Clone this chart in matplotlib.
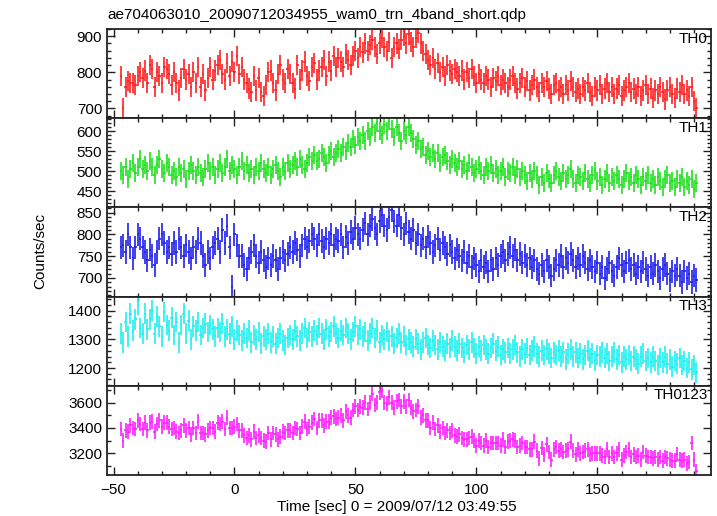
import numpy as np
import matplotlib
matplotlib.use("Agg")
import matplotlib.pyplot as plt
from matplotlib.ticker import MultipleLocator

plt.rcParams['font.family'] = ['Liberation Sans', 'DejaVu Sans']

# light curve data, 1 s bins starting at t = -47 s
t_start = -47
bin_width = 1.0

th0 = [790, 700, 760, 775, 770, 770, 765, 790, 800, 785,
       805, 770, 820, 810, 760, 800, 790, 770, 815, 810,
       795, 765, 800, 770, 750, 785, 810, 780, 795, 760,
       800, 770, 815, 760, 795, 750, 785, 815, 780, 805,
       820, 835, 795, 780, 825, 790, 830, 800, 845, 795,
       815, 780, 770, 755, 745, 790, 750, 785, 745, 735,
       765, 800, 805, 770, 750, 795, 820, 780, 770, 810,
       795, 770, 755, 820, 780, 805, 830, 790, 775, 815,
       825, 780, 805, 815, 835, 790, 830, 805, 845, 815,
       840, 830, 815, 850, 835, 820, 845, 860, 840, 870,
       855, 880, 860, 875, 890, 870, 850, 880, 895, 870,
       860, 885, 840, 870, 880, 865, 890, 900, 880, 905,
       885, 870, 895, 910, 880, 860, 850, 835, 820, 840,
       810, 825, 800, 815, 790, 820, 805, 795, 810, 800,
       790, 805, 780, 800, 785, 810, 790, 770, 795, 780,
       770, 790, 780, 760, 785, 775, 790, 765, 780, 770,
       760, 780, 790, 770, 755, 770, 785, 760, 775, 750,
       765, 780, 760, 745, 770, 760, 775, 755, 740, 765,
       770, 750, 760, 740, 765, 750, 775, 760, 745, 755,
       740, 760, 750, 770, 745, 735, 760, 750, 765, 740,
       755, 770, 745, 760, 740, 755, 765, 735, 750, 760,
       770, 745, 755, 740, 760, 735, 750, 765, 740, 755,
       730, 750, 740, 760, 745, 725, 750, 760, 740, 730,
       755, 745, 765, 740, 750, 735, 760, 720, 700]

th1 = [500, 490, 510, 480, 505, 520, 495, 510, 530, 505,
       515, 500, 525, 510, 490, 515, 530, 505, 495, 520,
       510, 490, 500, 485, 510, 495, 505, 480, 500, 515,
       500, 490, 510, 495, 485, 505, 520, 500, 510, 490,
       505, 520, 495, 510, 530, 500, 515, 505, 490, 510,
       525, 500, 515, 495, 505, 490, 510, 500, 520, 505,
       495, 510, 490, 505, 515, 500, 485, 510, 500, 520,
       505, 515, 525, 510, 530, 515, 505, 520, 535, 525,
       540, 525, 530, 545, 535, 520, 540, 550, 535, 545,
       555, 545, 560, 550, 570, 560, 580, 565, 585, 575,
       590, 575, 600, 585, 610, 595, 620, 600, 590, 615,
       600, 625, 605, 585, 610, 595, 575, 600, 590, 610,
       595, 580, 565, 575, 555, 560, 540, 550, 535, 545,
       530, 545, 520, 535, 540, 525, 515, 530, 520, 510,
       525, 505, 515, 500, 520, 510, 495, 505, 515, 500,
       490, 510, 500, 515, 495, 505, 490, 500, 510, 485,
       500, 495, 510, 490, 505, 485, 500, 490, 475, 495,
       480, 500, 490, 465, 485, 470, 495, 480, 470, 490,
       500, 485, 475, 495, 480, 490, 505, 480, 470, 490,
       485, 475, 495, 480, 470, 490, 500, 475, 485, 465,
       480, 495, 470, 485, 475, 490, 480, 465, 480, 495,
       475, 485, 470, 490, 480, 465, 485, 475, 490, 470,
       480, 465, 485, 475, 460, 480, 490, 470, 475, 460,
       480, 470, 485, 460, 475, 465, 480, 455, 470]

th2 = [770, 775, 760, 800, 770, 745, 770, 800, 790, 770,
       760, 740, 765, 750, 730, 760, 790, 800, 780, 760,
       770, 755, 780, 760, 790, 770, 750, 775, 760, 745,
       770, 760, 790, 780, 750, 730, 760, 745, 770, 780,
       790, 760, 810, 780, 820, 770, 680, 800, 775, 750,
       750, 730, 720, 745, 760, 775, 750, 735, 760, 740,
       725, 745, 730, 750, 740, 720, 745, 760, 740, 755,
       770, 760, 780, 765, 750, 775, 790, 770, 785, 800,
       790, 775, 800, 785, 770, 790, 780, 800, 775, 790,
       785, 800, 770, 795, 780, 805, 790, 815, 800, 790,
       810, 825, 800, 820, 835, 815, 800, 830, 845, 820,
       810, 840, 855, 830, 820, 845, 815, 800, 825, 805,
       790, 810, 780, 800, 775, 790, 770, 795, 780, 760,
       775, 790, 765, 780, 770, 755, 775, 760, 745, 765,
       750, 740, 760, 735, 750, 725, 745, 730, 715, 740,
       725, 735, 715, 740, 720, 745, 730, 750, 760, 740,
       755, 770, 750, 765, 740, 755, 735, 750, 730, 745,
       725, 740, 720, 710, 730, 715, 740, 725, 705, 720,
       740, 730, 750, 725, 745, 735, 755, 740, 725, 745,
       730, 750, 735, 720, 740, 725, 715, 735, 710, 725,
       700, 720, 735, 715, 705, 725, 745, 730, 715, 735,
       740, 720, 730, 710, 725, 715, 735, 720, 705, 725,
       710, 730, 715, 700, 720, 730, 710, 695, 715, 705,
       720, 705, 690, 715, 700, 710, 690, 705, 695]

th3 = [1320, 1290, 1360, 1310, 1390, 1330, 1370, 1420, 1340, 1320,
       1390, 1335, 1370, 1400, 1320, 1380, 1345, 1310, 1395, 1350,
       1330, 1375, 1315, 1360, 1290, 1350, 1390, 1320, 1365, 1300,
       1345, 1330, 1360, 1315, 1340, 1355, 1325, 1350, 1335, 1310,
       1340, 1325, 1355, 1310, 1335, 1320, 1345, 1300, 1330, 1315,
       1295, 1320, 1305, 1330, 1290, 1315, 1300, 1325, 1285, 1310,
       1300, 1320, 1290, 1310, 1285, 1305, 1320, 1295, 1280, 1305,
       1315, 1300, 1330, 1310, 1295, 1320, 1340, 1305, 1325, 1310,
       1330, 1315, 1340, 1320, 1300, 1335, 1310, 1325, 1345, 1320,
       1305, 1330, 1315, 1340, 1320, 1300, 1325, 1345, 1315, 1335,
       1310, 1325, 1295, 1320, 1340, 1305, 1330, 1290, 1315, 1300,
       1325, 1295, 1310, 1285, 1305, 1320, 1290, 1310, 1280, 1300,
       1290, 1275, 1300, 1285, 1265, 1290, 1305, 1280, 1270, 1295,
       1280, 1265, 1290, 1275, 1260, 1285, 1270, 1295, 1275, 1260,
       1285, 1270, 1255, 1280, 1265, 1290, 1270, 1250, 1275, 1260,
       1280, 1265, 1250, 1270, 1285, 1260, 1275, 1245, 1265, 1255,
       1270, 1250, 1265, 1280, 1255, 1240, 1265, 1250, 1270, 1245,
       1260, 1275, 1250, 1240, 1260, 1245, 1265, 1250, 1235, 1255,
       1245, 1260, 1240, 1255, 1230, 1250, 1265, 1240, 1255, 1235,
       1250, 1230, 1245, 1260, 1235, 1250, 1225, 1245, 1240, 1255,
       1235, 1250, 1225, 1240, 1255, 1230, 1245, 1220, 1240, 1230,
       1245, 1225, 1240, 1230, 1215, 1240, 1250, 1225, 1235, 1220,
       1240, 1225, 1210, 1235, 1220, 1240, 1215, 1230, 1205, 1225,
       1215, 1235, 1210, 1225, 1200, 1220, 1195, 1210, 1185]

th0123 = [3390, 3300, 3380, 3370, 3420, 3400, 3390, 3460, 3430, 3390,
          3440, 3380, 3440, 3450, 3370, 3430, 3460, 3410, 3440, 3440,
          3410, 3390, 3400, 3370, 3360, 3380, 3420, 3380, 3400, 3350,
          3400, 3360, 3450, 3360, 3360, 3350, 3380, 3400, 3400, 3370,
          3440, 3430, 3450, 3390, 3480, 3400, 3400, 3410, 3430, 3380,
          3380, 3340, 3320, 3340, 3310, 3370, 3320, 3340, 3320, 3300,
          3290, 3360, 3310, 3360, 3350, 3310, 3330, 3370, 3360, 3380,
          3380, 3360, 3400, 3390, 3360, 3410, 3450, 3390, 3410, 3440,
          3470, 3400, 3460, 3460, 3420, 3450, 3450, 3480, 3490, 3470,
          3480, 3500, 3460, 3530, 3500, 3480, 3540, 3570, 3540, 3570,
          3560, 3600, 3550, 3600, 3670, 3580, 3600, 3680, 3690, 3600,
          3590, 3640, 3600, 3560, 3610, 3620, 3570, 3610, 3570, 3620,
          3560, 3530, 3540, 3570, 3480, 3500, 3460, 3460, 3400, 3440,
          3390, 3420, 3370, 3400, 3360, 3380, 3360, 3380, 3340, 3330,
          3350, 3320, 3310, 3310, 3320, 3330, 3300, 3260, 3300, 3280,
          3260, 3300, 3250, 3280, 3280, 3280, 3280, 3260, 3310, 3250,
          3290, 3300, 3310, 3300, 3250, 3260, 3280, 3250, 3250, 3230,
          3230, 3290, 3220, 3160, 3240, 3190, 3270, 3210, 3150, 3230,
          3250, 3220, 3230, 3210, 3220, 3230, 3290, 3220, 3190, 3230,
          3200, 3210, 3220, 3230, 3190, 3200, 3200, 3200, 3200, 3180,
          3170, 3230, 3170, 3200, 3170, 3200, 3230, 3150, 3180, 3210,
          3230, 3170, 3190, 3170, 3180, 3150, 3210, 3180, 3170, 3170,
          3160, 3170, 3150, 3170, 3140, 3170, 3160, 3150, 3140, 3140,
          3190, 3150, 3140, 3150, 3120, 3130, 3280, 3150, 3060]

bands = ["TH0", "TH1", "TH2", "TH3", "TH0123"]
errors = [28, 22, 27, 36, 58]
colors = ["#ff2020", "#20e020", "#2020ee", "#20f0f0", "#ff20ff"]
ylims = [(673, 920), (410, 632), (657, 862), (1138, 1449), (3028, 3732)]
ymajor = [100, 50, 50, 100, 200]
yminor = [20, 10, 10, 20, 100]
series = [th0, th1, th2, th3, th0123]

fig = plt.figure(figsize=(7.17, 5.16), dpi=100)
left, right = 107 / 717, 711 / 717
top, bottom = 1 - 29 / 516, 1 - 475 / 516
h = (top - bottom) / 5

for i in range(5):
    ax = fig.add_axes([left, top - (i + 1) * h, right - left, h])
    y = np.array(series[i])
    t = t_start + np.arange(len(y)) * bin_width
    ax.errorbar(t, y, xerr=bin_width / 2, yerr=errors[i], fmt='none',
                ecolor=colors[i], elinewidth=1.2, capsize=0)
    ax.set_xlim(-52.7, 197)
    ax.set_ylim(*ylims[i])
    ax.xaxis.set_major_locator(MultipleLocator(50))
    ax.xaxis.set_minor_locator(MultipleLocator(10))
    ax.yaxis.set_major_locator(MultipleLocator(ymajor[i]))
    ax.yaxis.set_minor_locator(MultipleLocator(yminor[i]))
    ax.tick_params(which='both', direction='in', top=True, right=True,
                   labelsize=11, width=1.0, color='#222222')
    ax.tick_params(which='major', length=6)
    ax.tick_params(which='minor', length=3)
    for s in ax.spines.values():
        s.set_linewidth(1.3)
        s.set_color('#222222')
    if i < 4:
        ax.tick_params(labelbottom=False)
    else:
        ax.tick_params(axis='x', pad=6)
    ax.text(0.995, 0.97, bands[i], transform=ax.transAxes, ha='right',
            va='top', fontsize=11)

fig.text(left, 1 - 19 / 516, "ae704063010_20090712034955_wam0_trn_4band_short.qdp",
         ha='left', va='baseline', fontsize=11)
fig.text(40 / 717, 0.513, "Counts/sec", rotation=90, ha='center', va='center',
         fontsize=11)
fig.text(397 / 717, 1 - 507 / 516, "Time [sec] 0 = 2009/07/12 03:49:55",
         ha='center', va='center', fontsize=11)

fig.savefig("out.png", dpi=100)
